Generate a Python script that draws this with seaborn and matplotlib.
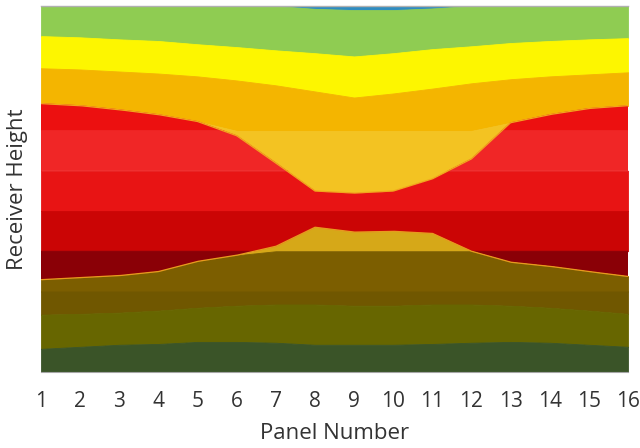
import numpy as np
import matplotlib
matplotlib.use("Agg")
import matplotlib.pyplot as plt
import seaborn as sns

# ---------------- data (band boundaries read per panel, receiver-height units) ----
panels = list(range(1, 17))
top_height = 9.0
blue_bottom   = [9.00, 9.00, 9.00, 9.00, 9.00, 9.00, 9.00, 8.93, 8.90, 8.90, 8.94, 9.00, 9.00, 9.00, 9.00, 9.00]
green_bottom  = [8.26, 8.23, 8.18, 8.14, 8.06, 7.99, 7.91, 7.84, 7.76, 7.84, 7.94, 8.01, 8.09, 8.14, 8.18, 8.21]
yellow_bottom = [7.47, 7.44, 7.39, 7.34, 7.27, 7.17, 7.05, 6.90, 6.75, 6.85, 6.97, 7.10, 7.20, 7.27, 7.32, 7.37]
orange_bottom = [6.60, 6.55, 6.45, 6.33, 6.16, 5.93, 5.93, 5.93, 5.93, 5.93, 5.93, 5.93, 6.13, 6.33, 6.48, 6.55]
red_top       = [6.60, 6.55, 6.45, 6.33, 6.16, 5.81, 5.14, 4.45, 4.40, 4.45, 4.75, 5.24, 6.13, 6.33, 6.48, 6.55]
red_bottom    = [2.27, 2.32, 2.37, 2.47, 2.72, 2.87, 3.09, 3.56, 3.44, 3.46, 3.41, 2.97, 2.70, 2.60, 2.47, 2.35]
brown_top     = [2.27, 2.32, 2.37, 2.47, 2.72, 2.87, 2.97, 2.97, 2.97, 2.97, 2.97, 2.97, 2.70, 2.60, 2.47, 2.35]
brown_bottom  = [1.41, 1.43, 1.46, 1.51, 1.58, 1.63, 1.66, 1.66, 1.63, 1.63, 1.66, 1.66, 1.63, 1.58, 1.51, 1.43]
olive_bottom  = [0.57, 0.62, 0.67, 0.69, 0.74, 0.74, 0.72, 0.67, 0.67, 0.67, 0.69, 0.72, 0.74, 0.72, 0.67, 0.62]
grid_rows     = [5.93, 4.95, 3.96, 2.97, 1.98]   # surface grid rows (shading steps)
tick_labels   = [str(p) for p in panels]

# ---------------- style ------------------------------------------------------------
sns.set_style("white")
plt.rcParams["font.family"] = ["Open Sans", "DejaVu Sans"]

c_blue, c_green, c_yellow, c_orange = "#2f8cc0", "#8fcc52", "#fdf600", "#f4b500"
c_lightorange, c_golden = "#f3c322", "#d6a818"
red_shades = ["#ec1010", "#f02626", "#e81414", "#cb0505", "#8a0006"]
c_brown_hi, c_brown_lo = "#7c5e00", "#705700"
c_olive, c_dgreen = "#676600", "#3a5428"

fig = plt.figure(figsize=(6.4, 4.48), dpi=100)
ax = fig.add_axes([41/640, (448-372)/448, 587/640, 366/448])

xs = np.linspace(panels[0], panels[-1], 800)
f = lambda arr: np.interp(xs, panels, arr)

B = dict(blue=f(blue_bottom), green=f(green_bottom), yellow=f(yellow_bottom),
         orange=f(orange_bottom), rtop=f(red_top), rbot=f(red_bottom),
         btop=f(brown_top), bbot=f(brown_bottom), obot=f(olive_bottom))

def band(lo, hi, color):
    hi2 = np.maximum(hi, lo)
    ax.fill_between(xs, lo, hi2, facecolor=color, edgecolor=color, lw=0.6,
                    where=hi > lo - 1e-9, interpolate=True)

band(B["blue"], np.full_like(xs, top_height), c_blue)
band(B["green"], B["blue"], c_green)
band(B["yellow"], B["green"], c_yellow)
band(B["orange"], B["yellow"], c_orange)
band(B["rtop"], B["orange"], c_lightorange)
# red band shaded by surface-grid rows
edges = [top_height] + grid_rows[:4] + [0.0]
for i, col in enumerate(red_shades):
    hi = np.minimum(B["rtop"], edges[i])
    lo = np.maximum(B["rbot"], edges[i + 1])
    band(lo, hi, col)
band(B["btop"], B["rbot"], c_golden)
band(np.maximum(B["bbot"], grid_rows[4]), B["btop"], c_brown_hi)
band(B["bbot"], np.minimum(B["btop"], grid_rows[4]), c_brown_lo)
band(B["obot"], B["bbot"], c_olive)
band(np.zeros_like(xs), B["obot"], c_dgreen)

# contour edge lines
sns.lineplot(x=xs, y=B["rtop"], ax=ax, color="#f2a51e", lw=0.9)
sns.lineplot(x=xs, y=B["rbot"], ax=ax, color="#e89a1e", lw=0.9)

ax.set_xlim(panels[0], panels[-1])
ax.set_ylim(0, top_height)
ax.set_xticks(panels)
ax.set_xticklabels(tick_labels, fontsize=15, color="#333333")
ax.set_yticks([])
ax.tick_params(axis="x", direction="out", length=5, width=1, color="#a6a6a6", pad=9)
for s in ["left", "right"]:
    ax.spines[s].set_visible(False)
ax.spines["top"].set_color("#b0b0b0")
ax.spines["top"].set_linewidth(1)
ax.spines["bottom"].set_color("#a6a6a6")

ax.set_xlabel("Panel Number", fontsize=16, color="#333333")
ax.set_ylabel("Receiver Height", fontsize=16, color="#333333")
ax.xaxis.set_label_coords(0.5, -0.14)
ax.yaxis.set_label_coords(-0.022, 0.5)

fig.savefig("out.png", dpi=100)
